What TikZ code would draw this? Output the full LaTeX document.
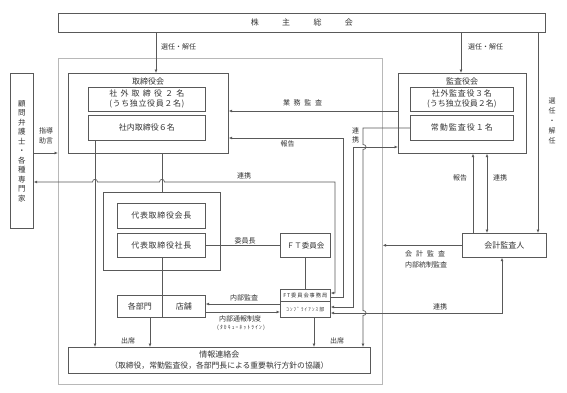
\documentclass[tikz,border=0pt]{standalone}
\usepackage{fontspec}
\setmainfont{Noto Sans CJK JP}
\usetikzlibrary{arrows.meta,calc}
\definecolor{lc}{gray}{0.35}
\definecolor{gc}{gray}{0.72}
\definecolor{tc}{gray}{0.2}
\newcommand\fsz[2]{\fontsize{#1}{#2}\selectfont}
\makeatletter
\newcommand\spr[2]{\makebox[#1][s]{\spr@a#2\relax}}
\def\spr@a#1{#1\spr@b}
\def\spr@b#1{\ifx#1\relax\else\hfil#1\expandafter\spr@b\fi}
\makeatother
\tikzset{
 bx/.style={draw=lc, line width=0.7pt, inner sep=0pt, anchor=north west, font=\fsz{8}{10}, text=tc, align=center},
 lb/.style={inner sep=0pt, font=\fsz{7}{9}, text=tc, align=center},
 ln/.style={draw=lc, line width=0.7pt},
 arr/.style={ln, -{Latex[length=3.5pt,width=3pt]}},
 arrb/.style={ln, {Latex[length=3.5pt,width=3pt]}-{Latex[length=3.5pt,width=3pt]}},
}
\begin{document}
\begin{tikzpicture}[x=1pt,y=-1pt]
\useasboundingbox (0,0) rectangle (567,392);
% outer region
\node[draw=gc, line width=0.6pt, inner sep=0pt, anchor=north west, minimum width=324pt, minimum height=326pt] (outer) at (58,58) {};
% boxes
\node[bx, minimum width=487pt, minimum height=19pt] (kabu) at (58,13) {\spr{102pt}{株主総会}};
\node[bx, minimum width=23pt, minimum height=155pt] (komon) at (10,73) {};
\node[lb, font=\fsz{7.5}{9.5}] (komontx) at (komon.center) {顧\\問\\弁\\護\\士\\・\\各\\種\\専\\門\\家};
\node[bx, minimum width=160pt, minimum height=80pt] (tori) at (68,73) {};
\node[lb, font=\fsz{8}{10}] (toritl) at (148,81) {取締役会};
\node[bx, minimum width=117pt, minimum height=24pt] (shagai) at (88,87) {\spr{75pt}{社外取締役２名}\\\spr{75pt}{(うち独立役員２名)}};
\node[bx, minimum width=117pt, minimum height=25pt] (shanai) at (88,115) {社内取締役６名};
\node[bx, minimum width=128pt, minimum height=80pt] (kansa) at (398,73) {};
\node[lb, font=\fsz{8}{10}] (kansatl) at (462,81) {監査役会};
\node[bx, minimum width=103pt, minimum height=24pt] (kgai) at (410,87) {\spr{60pt}{社外監査役３名}\\(うち独立役員２名)};
\node[bx, minimum width=103pt, minimum height=25pt] (jokin) at (410,115) {\spr{62pt}{常勤監査役１名}};
\node[bx, minimum width=117pt, minimum height=78pt] (grp) at (103,192) {};
\node[bx, minimum width=88pt, minimum height=25pt] (kaicho) at (117,203) {\spr{60pt}{代表取締役会長}};
\node[bx, minimum width=88pt, minimum height=24pt] (shacho) at (117,233) {\spr{60pt}{代表取締役社長}};
\node[bx, minimum width=50pt, minimum height=24pt, font=\fsz{7.5}{9}] (ft) at (280,233) {\spr{37pt}{ＦＴ委員会}};
\node[bx, minimum width=84pt, minimum height=24pt] (kaikei) at (462,233) {会計監査人};
\node[bx, minimum width=50pt, minimum height=12pt, font=\fsz{5.3}{6}] (ftj) at (280,289) {\spr{44pt}{FT委員会事務局}};
\node[bx, minimum width=50pt, minimum height=16pt, font=\fsz{5}{6}] (comp) at (280,301) {\spr{38pt}{ｺﾝﾌﾟﾗｲｱﾝｽ部}};
\node[bx, minimum width=45pt, minimum height=22pt] (bumon) at (117,295) {各部門};
\node[bx, minimum width=43pt, minimum height=22pt] (tenpo) at (162,295) {店舗};
\node[bx, minimum width=302pt, minimum height=26pt, font=\fsz{8}{11}] (joho) at (68,347) {情報連絡会\\{\fsz{7.8}{11}（取締役，常勤監査役，各部門長による重要執行方針の協議）}};
% helper coordinates
\coordinate (vA) at (156,0);
\coordinate (vB) at (461,0);
\coordinate (vC) at (538,0);
\coordinate (v95) at (95,0);
\coordinate (v162) at (162,0);
\coordinate (v150) at (150,0);
\coordinate (v314) at (314,0);
\coordinate (v335) at (335,0);
\coordinate (v343) at (343,0);
\coordinate (v353) at (353,0);
\coordinate (v363) at (363,0);
\coordinate (v473) at (473,0);
\coordinate (v487) at (487,0);
\coordinate (v502) at (502,0);
\coordinate (h111) at (0,111);
\coordinate (h128) at (0,128);
\coordinate (h138) at (0,138);
\coordinate (h147) at (0,147);
\coordinate (h153) at (0,153);
\coordinate (h182) at (0,182);
\coordinate (h293) at (0,293);
\coordinate (h297) at (0,297);
\coordinate (h304) at (0,304);
\coordinate (h307) at (0,307);
\coordinate (h312) at (0,312);
\coordinate (h313) at (0,313);
% connectors
\draw[arr] (kabu.south -| vA) -- (tori.north -| vA);
\draw[arr] (kabu.south -| vB) -- (kansa.north -| vB);
\draw[arr] (kabu.south -| vC) -- (kaikei.north -| vC);
\draw[arr] (kansa.west |- h111) -- (tori.east |- h111);
\draw[arr] (ftj.east |- h297) -| (v343 |- h138) -- (tori.east |- h138);
\draw[arrb] (komon.east |- h182) -- (92.5,182) .. controls (92.5,178.5) and (97.5,178.5) .. (97.5,182) -- (159.5,182) .. controls (159.5,178.5) and (164.5,178.5) .. (164.5,182) -| (v335 |- h293) -- (ftj.east |- h293);
\draw[arr] (komon.east |- h153) -- (outer.west |- h153);
\draw[arr] (shanai.south -| v95) -- (joho.north -| v95);
\draw[ln] (tori.south -| v162) -- (grp.north -| v162);
\draw[ln] (shacho.south -| v162) -- (bumon.north -| v162);
\draw[arr] (bumon.south -| v150) -- (joho.north -| v150);
\draw[ln] (shacho.east) -- (ft.west);
\draw[ln] (ft.south) -- (ftj.north);
\draw[arr] (comp.west |- h304) -- (tenpo.east |- h304);
\draw[arr] (tenpo.east |- h312) -- (comp.west |- h312);
\draw[arr] (comp.south -| v314) -- (joho.north -| v314);
\draw[arrb] (comp.east |- h307) -| (v353 |- h147) -- (kansa.west |- h147);
\draw[arr] (jokin.west |- h128) -- (363,128) -- (363,144.5) .. controls (367,144.5) and (367,149.5) .. (363,149.5) -- (363,310.5) .. controls (367,310.5) and (367,315.5) .. (363,315.5) -- (joho.north -| v363);
\draw[arrb] (kaikei.south -| v502) |- (comp.east |- h313);
\draw[arr] (kaikei.north -| v473) -- (kansa.south -| v473);
\draw[arrb] (kansa.south -| v487) -- (kaikei.north -| v487);
\draw[arr] (kaikei.west) -- (outer.east |- kaikei.west);
% labels
\node[lb, anchor=west] (l1) at (161,47) {選任・解任};
\node[lb, anchor=west] (l2) at (468,47) {選任・解任};
\node[lb, font=\fsz{7}{10}] (l3) at (552,120.5) {選\\任\\・\\解\\任};
\node[lb] (l4) at (302.5,103) {\spr{39pt}{業務監査}};
\node[lb] (l5) at (287.5,144) {報告};
\node[lb] (l6) at (244,176) {連携};
\node[lb, font=\fsz{7}{9.5}] (l7) at (355.5,135.5) {連\\携};
\node[lb] (l8) at (460,178) {報告};
\node[lb] (l9) at (500,178) {連携};
\node[lb, font=\fsz{7}{10}] (l10) at (46,135.5) {指導\\助言};
\node[lb] (l11) at (245,241) {委員長};
\node[lb] (l12) at (425,254) {\spr{40pt}{会計監査}};
\node[lb] (l13) at (426,264.5) {内部統制監査};
\node[lb] (l14) at (440,307) {連携};
\node[lb] (l15) at (244,298) {内部監査};
\node[lb] (l16) at (240,318.5) {内部通報制度};
\node[lb, font=\fsz{5.5}{6}] (l17) at (241,327.5) {\spr{48pt}{(ﾀｶｷｭｰﾎｯﾄﾗｲﾝ)}};
\node[lb] (l18) at (128,341) {出席};
\node[lb] (l19) at (337,341) {出席};
\end{tikzpicture}
\end{document}
